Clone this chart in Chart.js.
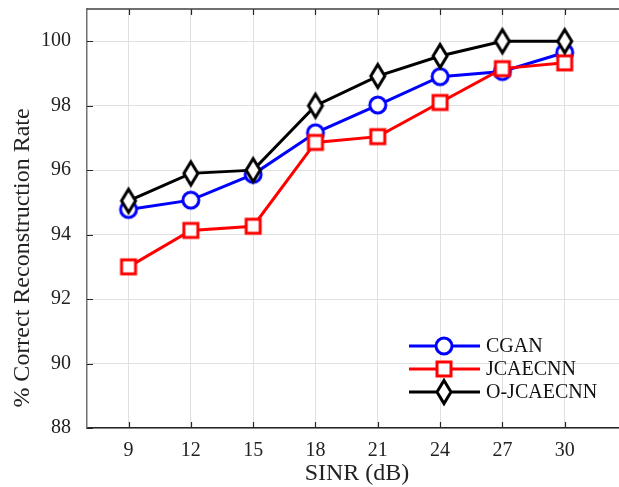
<!DOCTYPE html>
<html>
<head>
<meta charset="utf-8">
<script src="https://cdn.jsdelivr.net/npm/chart.js@4.4.0/dist/chart.umd.min.js"></script>
<style>
  html, body { margin: 0; padding: 0; background: #fff; overflow: hidden; }
  #wrap { width: 619px; height: 487px; overflow: hidden; }
  #chart { display: block; }
</style>
</head>
<body>
<div id="wrap"><canvas id="chart" width="640" height="487"></canvas></div>
<script>
// data
const sinr = [9, 12, 15, 18, 21, 24, 27, 30];
const cgan = [94.78, 95.07, 95.87, 97.16, 98.02, 98.9, 99.06, 99.65];
const jcaecnn = [93.0, 94.13, 94.26, 96.86, 97.04, 98.1, 99.15, 99.33];
const ojcaecnn = [95.05, 95.9, 96.0, 98.0, 98.92, 99.54, 100.0, 100.0];
const yTicks = [88, 90, 92, 94, 96, 98, 100];

const serif = "'Liberation Serif', 'Times New Roman', serif";

// hollow matlab-like markers
function marker(shape, color) {
    const c = document.createElement('canvas');
    const w = 22;
    const h = shape === 'diamond' ? 32 : 22;
    c.width = w; c.height = h;
    const g = c.getContext('2d');
    g.lineWidth = 3;
    g.strokeStyle = color;
    g.fillStyle = '#fff';
    g.lineJoin = 'miter';
    g.beginPath();
    if (shape === 'circle') {
        g.arc(w / 2, h / 2, 8, 0, Math.PI * 2);
    } else if (shape === 'square') {
        g.rect(w / 2 - 7, h / 2 - 7, 14, 14);
    } else {
        g.moveTo(w / 2, h / 2 - 11.5);
        g.lineTo(w / 2 + 7, h / 2);
        g.lineTo(w / 2, h / 2 + 11.5);
        g.lineTo(w / 2 - 7, h / 2);
        g.closePath();
    }
    g.fill();
    g.stroke();
    return c;
}

const mkC = marker('circle', '#0000ff');
const mkJ = marker('square', '#ff0000');
const mkO = marker('diamond', '#000000');

const toPts = arr => arr.map((v, i) => ({ x: sinr[i], y: v }));

// inner tick marks + top box line
const frame = {
    id: 'frame',
    beforeDatasetsDraw(chart) {
        const { ctx, chartArea: a, scales: { x, y } } = chart;
        ctx.save();
        ctx.lineWidth = 1.2;
        ctx.strokeStyle = '#262626';
        ctx.beginPath();
        sinr.forEach(v => {
            const px = Math.round(x.getPixelForValue(v)) + 0.5;
            ctx.moveTo(px, a.bottom); ctx.lineTo(px, a.bottom - 6);
            ctx.moveTo(px, a.top); ctx.lineTo(px, a.top + 6);
        });
        yTicks.forEach(v => {
            const py = Math.round(y.getPixelForValue(v)) + 0.5;
            ctx.moveTo(a.left, py); ctx.lineTo(a.left + 6, py);
        });
        ctx.stroke();
        ctx.lineWidth = 1.5;
        ctx.strokeStyle = '#404040';
        ctx.beginPath();
        ctx.moveTo(a.left, a.top); ctx.lineTo(a.right, a.top);
        ctx.stroke();
        ctx.restore();
    }
};

// legend with line + marker, and the y title
const legendBox = {
    id: 'legendBox',
    afterDraw(chart) {
        const ctx = chart.ctx;
        ctx.save();
        const rows = [346, 369, 392];
        chart.data.datasets.forEach((ds, i) => {
            const yy = rows[i];
            ctx.strokeStyle = ds.borderColor;
            ctx.lineWidth = 3;
            ctx.beginPath();
            ctx.moveTo(409, yy); ctx.lineTo(480, yy);
            ctx.stroke();
            const m = ds.pointStyle;
            ctx.drawImage(m, 444 - m.width / 2, yy - m.height / 2);
            ctx.fillStyle = '#111';
            ctx.font = '20px ' + serif;
            ctx.textBaseline = 'middle';
            ctx.textAlign = 'left';
            ctx.fillText(ds.label, 486, yy + 1);
        });
        ctx.translate(29, 258);
        ctx.rotate(-Math.PI / 2);
        ctx.font = '24px ' + serif;
        ctx.fillStyle = '#222';
        ctx.textAlign = 'center';
        ctx.textBaseline = 'alphabetic';
        ctx.fillText('% Correct Reconstruction Rate', 0, 0);
        ctx.restore();
    }
};

new Chart(document.getElementById('chart'), {
    type: 'line',
    data: {
        datasets: [
            { label: 'CGAN', data: toPts(cgan), borderColor: '#0000ff', pointStyle: mkC, order: 3 },
            { label: 'JCAECNN', data: toPts(jcaecnn), borderColor: '#ff0000', pointStyle: mkJ, order: 2 },
            { label: 'O-JCAECNN', data: toPts(ojcaecnn), borderColor: '#000000', pointStyle: mkO, order: 1 }
        ]
    },
    options: {
        responsive: false,
        animation: false,
        layout: { padding: { top: 9, right: 13, left: 0, bottom: 0 } },
        elements: {
            line: { borderWidth: 3, tension: 0, fill: false },
            point: { radius: 8, hoverRadius: 8 }
        },
        plugins: { legend: { display: false }, tooltip: { enabled: false } },
        scales: {
            x: {
                type: 'linear',
                min: 7,
                max: 33,
                afterBuildTicks: s => { s.ticks = sinr.map(v => ({ value: v })); },
                afterFit: s => { s.height = 59; s.paddingLeft = 0; s.paddingRight = 0; },
                grid: { color: '#e0e0e0', lineWidth: 1, drawTicks: false },
                border: { display: true, color: '#262626', width: 1.5 },
                ticks: {
                    padding: 11,
                    color: '#222',
                    font: { family: serif, size: 20 },
                    maxRotation: 0,
                    autoSkip: false
                },
                title: {
                    display: true,
                    text: 'SINR (dB)',
                    color: '#222',
                    font: { family: serif, size: 24, lineHeight: 1 },
                    padding: { top: 0, bottom: 1 }
                }
            },
            y: {
                min: 88,
                max: 101,
                afterBuildTicks: s => { s.ticks = yTicks.map(v => ({ value: v })); },
                afterFit: s => { s.width = 87; s.paddingTop = 0; s.paddingBottom = 0; },
                grid: { color: '#e0e0e0', lineWidth: 1, drawTicks: false },
                border: { display: true, color: '#707070', width: 1.5 },
                ticks: {
                    padding: 16,
                    color: '#222',
                    font: { family: serif, size: 20 }
                }
            }
        }
    },
    plugins: [frame, legendBox]
});
</script>
</body>
</html>
